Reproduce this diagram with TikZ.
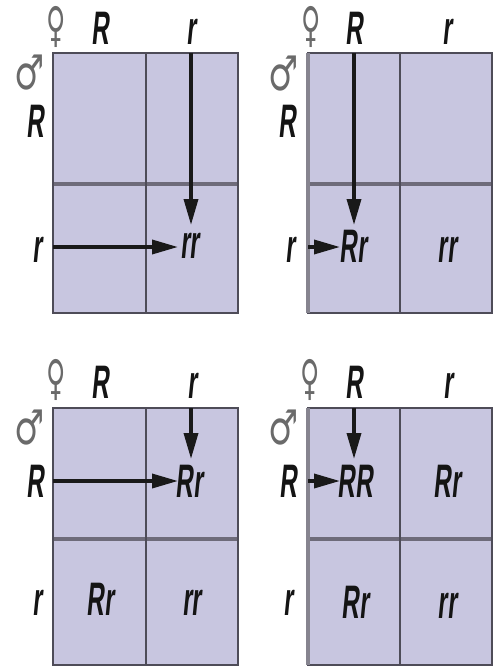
\documentclass[tikz,border=0pt]{standalone}
\usepackage{fontspec}
\newfontfamily\labfont[FakeStretch=0.52,FakeSlant=0.1]{Liberation Sans Bold}
\newfontfamily\symfont{DejaVu Sans}
\usetikzlibrary{arrows.meta}
\definecolor{cellfill}{HTML}{C8C6E0}
\definecolor{gridline}{HTML}{4E4C58}
\definecolor{midline}{HTML}{6E6B7A}
\definecolor{sideline}{HTML}{86848F}
\definecolor{symgray}{HTML}{6A6A6A}
\tikzset{
  lab/.style={font=\labfont\fontsize{47}{50}\selectfont, text=black!92, anchor=base, inner sep=0pt},
  sym/.style={font=\symfont\fontsize{48}{50}\selectfont, text=symgray, inner sep=0pt},
  arr/.style={line width=3.5pt, -{Triangle[length=26pt,width=14pt]}, black!90},
  cell/.style={fill=cellfill},
  border/.style={draw=gridline, line width=2.5pt},
  divider/.style={draw=gridline, line width=2pt},
  mid/.style={draw=midline, line width=4.5pt},
}
\newcommand{\fem}{\scalebox{0.55}[1]{♀}}
\newcommand{\mal}{\scalebox{0.7}[1]{♂}}
\begin{document}
\begin{tikzpicture}[x=1pt,y=-1pt]
\useasboundingbox (0,0) rectangle (494,666);

% ---------- Panel 1 ----------
\fill[cell] (53,53) rectangle (238,313);
\draw[mid] (53,184) -- (238,184);
\draw[divider] (146,53) -- (146,313);
\draw[border] (53,53) rectangle (238,313);
\node[sym] (f1) at (56,27) {\fem};
\node[sym] (m1) at (30,73) {\mal};
\node[lab] (c1R) at (100,45) {R};
\node[lab] (c1r) at (191,45) {r};
\node[lab] (r1R) at (35,137) {R};
\node[lab] (r1r) at (37,262) {r};
\node[lab] (p1rr) at (190,258) {rr};
\coordinate (v1s) at (191,53);
\coordinate (v1e) at (191,225);
\coordinate (h1s) at (53,247);
\coordinate (h1e) at (178,247);
\draw[arr] (v1s) -- (v1e);
\draw[arr] (h1s) -- (h1e);

% ---------- Panel 2 ----------
\fill[cell] (308,53) rectangle (492,313);
\draw[mid] (308,184) -- (492,184);
\draw[divider] (400,53) -- (400,313);
\draw[border] (308,53) rectangle (492,313);
\draw[draw=sideline, line width=4pt] (308,53) -- (308,313);
\node[sym] (f2) at (311,27) {\fem};
\node[sym] (m2) at (284,74) {\mal};
\node[lab] (c2R) at (354,45) {R};
\node[lab] (c2r) at (447,45) {r};
\node[lab] (r2R) at (287,137) {R};
\node[lab] (r2r) at (290,262) {r};
\node[lab] (p2Rr) at (353,262) {Rr};
\node[lab] (p2rr) at (447,262) {rr};
\coordinate (v2s) at (354,53);
\coordinate (v2e) at (354,225);
\coordinate (h2s) at (308,247);
\coordinate (h2e) at (340,247);
\draw[arr] (v2s) -- (v2e);
\draw[arr] (h2s) -- (h2e);

% ---------- Panel 3 ----------
\fill[cell] (53,408) rectangle (238,665);
\draw[mid] (53,539) -- (238,539);
\draw[divider] (146,408) -- (146,665);
\draw[border] (53,408) rectangle (238,665);
\node[sym] (f3) at (56,380) {\fem};
\node[sym] (m3) at (30,428) {\mal};
\node[lab] (c3R) at (100,398) {R};
\node[lab] (c3r) at (192,398) {r};
\node[lab] (r3R) at (35,497) {R};
\node[lab] (r3r) at (37,615) {r};
\node[lab] (p3Rr) at (189,497) {Rr};
\node[lab] (p3Rrb) at (100,615) {Rr};
\node[lab] (p3rr) at (192,615) {rr};
\coordinate (v3s) at (191,408);
\coordinate (v3e) at (191,459);
\coordinate (h3s) at (53,481);
\coordinate (h3e) at (178,481);
\draw[arr] (v3s) -- (v3e);
\draw[arr] (h3s) -- (h3e);

% ---------- Panel 4 ----------
\fill[cell] (308,408) rectangle (492,665);
\draw[mid] (308,539) -- (492,539);
\draw[divider] (400,408) -- (400,665);
\draw[border] (308,408) rectangle (492,665);
\draw[draw=sideline, line width=4pt] (308,408) -- (308,665);
\node[sym] (f4) at (310,380) {\fem};
\node[sym] (m4) at (284,428) {\mal};
\node[lab] (c4R) at (354,398) {R};
\node[lab] (c4r) at (448,398) {r};
\node[lab] (r4R) at (288,497) {R};
\node[lab] (r4r) at (288,615) {r};
\node[lab] (p4RR) at (355,497) {RR};
\node[lab] (p4Rr) at (447,497) {Rr};
\node[lab] (p4Rrb) at (355,618) {Rr};
\node[lab] (p4rr) at (447,618) {rr};
\coordinate (v4s) at (354,408);
\coordinate (v4e) at (354,459);
\coordinate (h4s) at (308,481);
\coordinate (h4e) at (340,481);
\draw[arr] (v4s) -- (v4e);
\draw[arr] (h4s) -- (h4e);
\end{tikzpicture}
\end{document}
